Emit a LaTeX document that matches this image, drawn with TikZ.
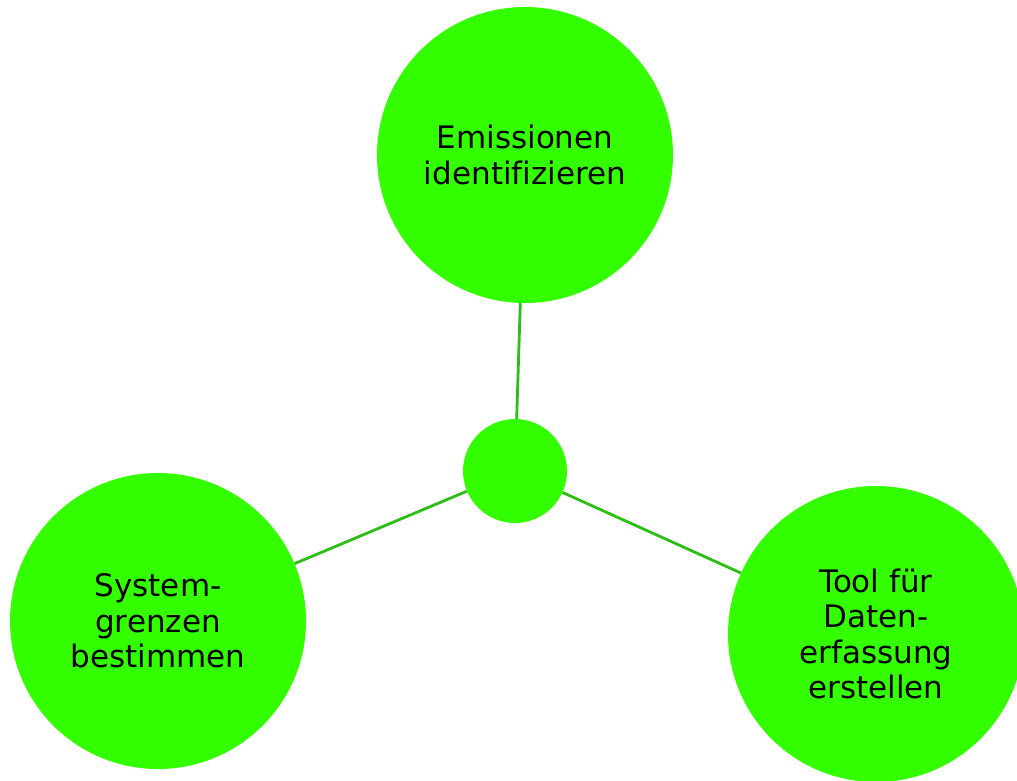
\documentclass[tikz,border=0pt]{standalone}
\usepackage{fontspec}
\setmainfont{DejaVu Sans}[Ligatures=NoCommon]
\usepackage{tikz}
\usetikzlibrary{shapes}

\definecolor{leafgreen}{RGB}{51,255,0}
\definecolor{stemgreen}{RGB}{44,190,20}

\begin{document}
\begin{tikzpicture}[x=1pt,y=1pt,yscale=-1,xscale=1,
  bigcircle/.style={circle,fill=leafgreen,draw=none,minimum size=296pt,inner sep=0pt,align=center,
    font=\fontsize{31}{35.5}\selectfont},
  hubcircle/.style={circle,fill=leafgreen,draw=none,minimum size=104pt,inner sep=0pt},
  spoke/.style={color=stemgreen,line width=2.8pt}]
\useasboundingbox (0,0) rectangle (1017,781);

%Shape: Circle [hub]
\node [hubcircle] (hub) at (515,471) {};
%Shape: Circle [top]
\node [bigcircle] (emis) at (525,155) {Emissionen\\identifizieren};
%Shape: Circle [left]
\node [bigcircle] (grenz) at (158,621) {System-\\grenzen\\bestimmen};
%Shape: Circle [right]
\node [bigcircle] (tool) at (876,634) {Tool für\\Daten-\\erfassung\\erstellen};

%Straight Lines
\draw [spoke] (hub) -- (emis) ;
\draw [spoke] (hub) -- (grenz) ;
\draw [spoke] (hub) -- (tool) ;

\end{tikzpicture}
\end{document}
